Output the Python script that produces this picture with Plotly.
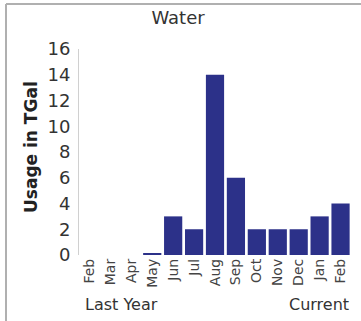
import plotly.graph_objects as go

months = ["Feb", "Mar", "Apr", "May", "Jun", "Jul", "Aug", "Sep", "Oct", "Nov", "Dec", "Jan", "Feb"]
usage = [0, 0, 0, 0.08, 3, 2, 14, 6, 2, 2, 2, 3, 4]
y_ticks = [0, 2, 4, 6, 8, 10, 12, 14, 16]

W, H = 361, 321
ML, MR, MT, MB = 79, 10, 49, 66
PW, PH = W - ML - MR, H - MT - MB

def px_x(x):
    return (x - ML) / PW

def px_y(y):
    return (H - MB - y) / PH

idx = list(range(len(months)))
font = "DejaVu Sans"

fig = go.Figure(go.Bar(x=idx, y=usage, marker=dict(color="#2c3189", line=dict(width=0)),
                       hoverinfo="skip"))
fig.update_layout(
    width=W, height=H, margin=dict(l=ML, r=MR, t=MT, b=MB, autoexpand=False),
    paper_bgcolor="white", plot_bgcolor="white", bargap=0.13, showlegend=False,
    font=dict(family=font, color="#333333"),
    title=dict(text="Water", x=px_x(178), xref="paper", xanchor="center",
               y=1 - 18 / H, yanchor="middle", font=dict(size=18, color="#333333")),
    xaxis=dict(tickmode="array", tickvals=idx, ticktext=months, tickangle=-90,
               range=[-0.5, len(months) - 0.5], showgrid=False, zeroline=False,
               showline=False, ticks="", automargin=False,
               tickfont=dict(size=14, color="#444444")),
    yaxis=dict(range=[0, 16], tickmode="array", tickvals=y_ticks, showgrid=False,
               zeroline=False, showline=True, linecolor="#d0d0d0", linewidth=1,
               ticks="", ticklen=0, automargin=False, ticklabelstandoff=4,
               tickfont=dict(size=18, color="#333333")),
    annotations=[
        dict(text="<b>Usage in TGal</b>", xref="paper", yref="paper", x=px_x(31),
             y=px_y(147), xanchor="center", yanchor="middle", textangle=-90,
             showarrow=False, font=dict(size=17, color="#222222")),
        dict(text="Last Year", xref="paper", yref="paper", x=px_x(83), y=px_y(304),
             xanchor="left", yanchor="middle", showarrow=False,
             font=dict(size=16, color="#333333")),
        dict(text="Current", xref="paper", yref="paper", x=px_x(351), y=px_y(304),
             xanchor="right", yanchor="middle", showarrow=False,
             font=dict(size=16, color="#333333")),
    ],
    shapes=[
        dict(type="line", xref="paper", yref="paper", x0=px_x(6), x1=px_x(6),
             y0=px_y(321), y1=px_y(4), line=dict(color="#b0b0b0", width=2)),
        dict(type="line", xref="paper", yref="paper", x0=px_x(6), x1=px_x(361),
             y0=px_y(4), y1=px_y(4), line=dict(color="#b0b0b0", width=2)),
    ],
)
fig.write_html("out.html", config={"displayModeBar": False},
               post_script="document.body.style.margin='0';document.body.style.overflow='hidden';")
